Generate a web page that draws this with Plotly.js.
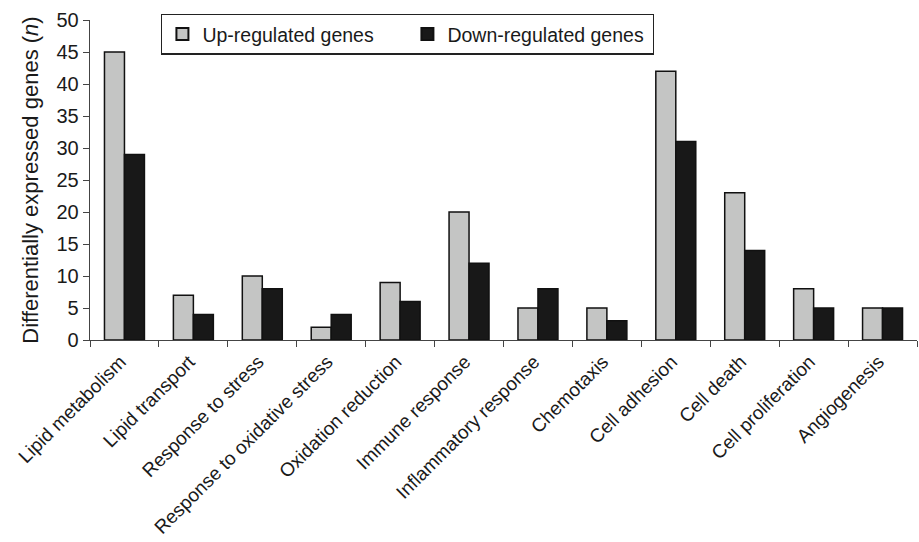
<!DOCTYPE html>
<html>
<head>
<meta charset="utf-8">
<script src="https://cdn.plot.ly/plotly-3.0.1.min.js"></script>
<style>html,body{margin:0;padding:0;background:#fff}#chart{width:919px;height:542px}</style>
</head>
<body>
<div id="chart"></div>
<script>
const categories = ["Lipid metabolism","Lipid transport","Response to stress","Response to oxidative stress","Oxidation reduction","Immune response","Inflammatory response","Chemotaxis","Cell adhesion","Cell death","Cell proliferation","Angiogenesis"];
const upRegulated = [45, 7, 10, 2, 9, 20, 5, 5, 42, 23, 8, 5];
const downRegulated = [29, 4, 8, 4, 6, 12, 8, 3, 31, 14, 5, 5];
const seriesNames = ["Up-regulated genes", "Down-regulated genes"];
const yTicks = [0, 5, 10, 15, 20, 25, 30, 35, 40, 45, 50];

const FONT = '"Liberation Sans", Arial, sans-serif';
const traces = [
  {type: 'bar', x: categories, y: upRegulated, name: seriesNames[0],
   marker: {color: '#c4c5c4', line: {color: '#111', width: 1.5}}},
  {type: 'bar', x: categories, y: downRegulated, name: seriesNames[1],
   marker: {color: '#181818', line: {color: '#111', width: 1.5}}}
];
const layout = {
  width: 919, height: 542,
  margin: {l: 90, r: 2, t: 20, b: 202},
  paper_bgcolor: '#fff', plot_bgcolor: '#fff',
  font: {family: FONT, size: 20, color: '#1a1a1a'},
  barmode: 'group', bargap: 0.42, bargroupgap: 0,
  showlegend: true,
  legend: {orientation: 'h', x: 0.086, y: 1.02, xanchor: 'left', yanchor: 'top',
           bgcolor: '#fff', bordercolor: '#222', borderwidth: 1.3,
           font: {family: FONT, size: 19.5, color: '#1a1a1a'},
           entrywidth: 200, entrywidthmode: 'pixels', itemsizing: 'constant'},
  xaxis: {type: 'category', tickangle: -45, ticks: 'outside', tickson: 'boundaries',
          ticklen: 6, tickcolor: '#444', showline: true, linecolor: '#444', linewidth: 1.3,
          showgrid: false, zeroline: false, automargin: false, ticklabelstandoff: 2, ticklabelshift: -4,
          tickfont: {family: FONT, size: 19, color: '#1a1a1a'}},
  yaxis: {range: [0, 50], tickvals: yTicks, ticktext: yTicks.map(String),
          ticks: 'outside', ticklen: 6, tickcolor: '#444', showline: true, linecolor: '#444', linewidth: 1.3,
          showgrid: false, zeroline: false, automargin: false,
          tickfont: {family: FONT, size: 20, color: '#1a1a1a'},
          title: {text: 'Differentially expressed genes (<i>n</i>)', standoff: 11,
                  font: {family: FONT, size: 22, color: '#1a1a1a'}}}
};
Plotly.newPlot('chart', traces, layout, {staticPlot: true, displayModeBar: false});
</script>
</body>
</html>
